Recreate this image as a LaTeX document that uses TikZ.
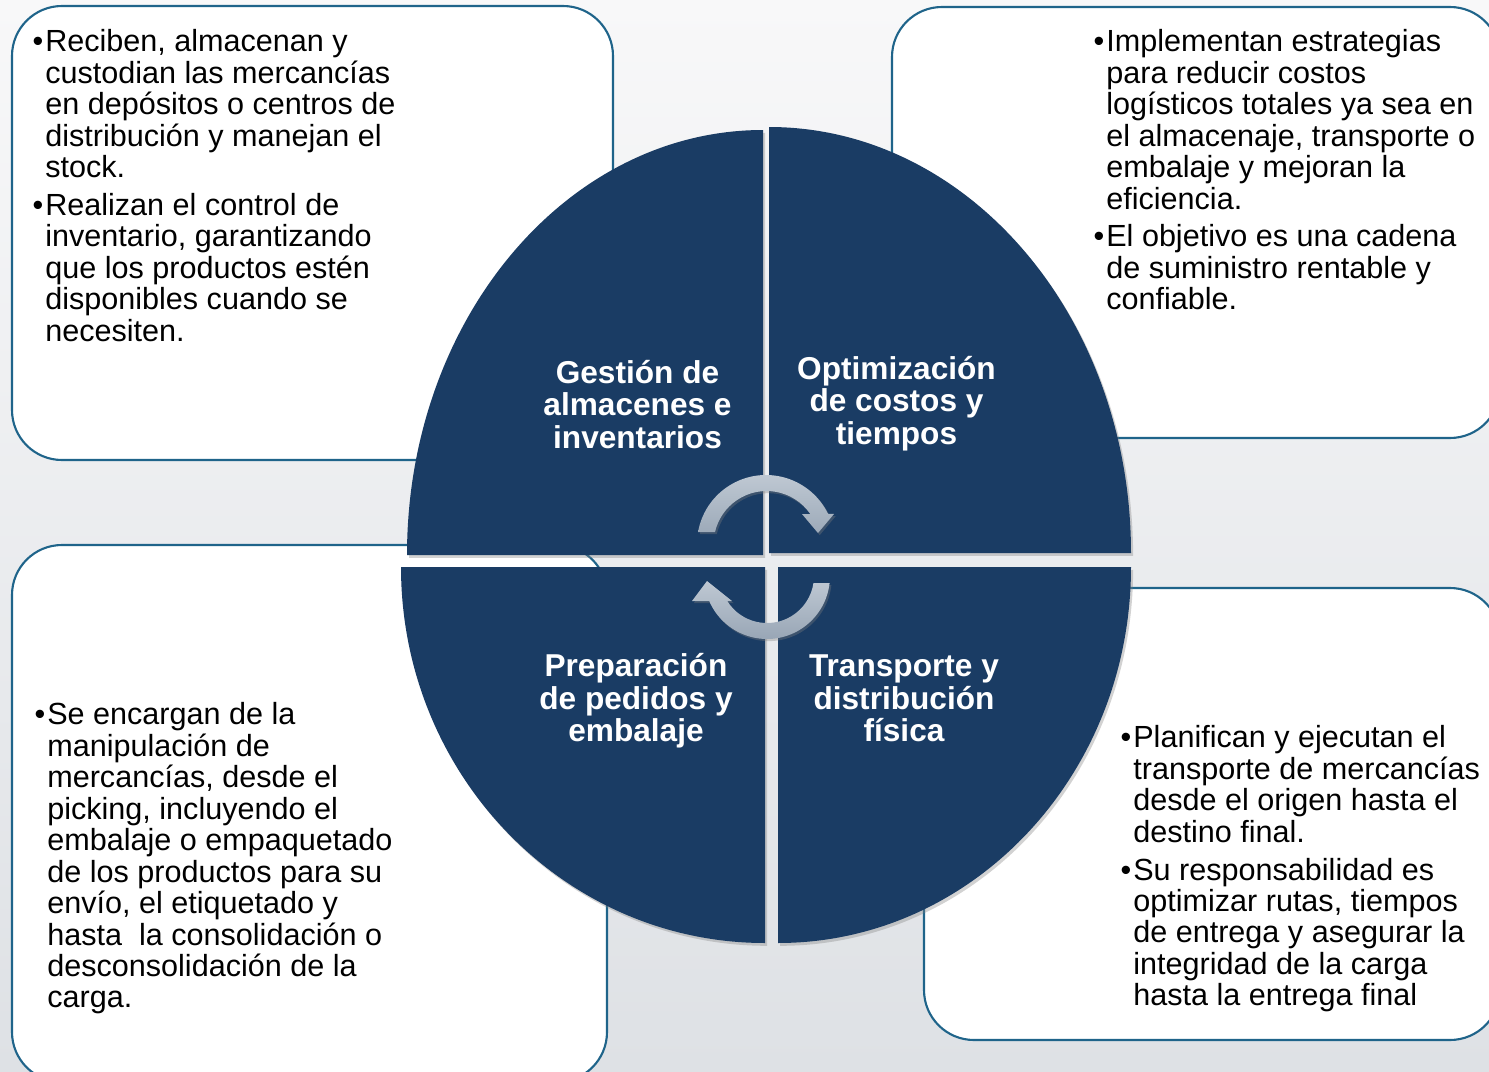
\documentclass[tikz,border=0pt]{standalone}
\usepackage{fontspec}
\setmainfont{Liberation Sans}
\usetikzlibrary{shadows}

\definecolor{navy}{RGB}{26,60,100}
\definecolor{frameblue}{RGB}{31,100,138}
\definecolor{arrowtop}{RGB}{194,203,213}
\definecolor{arrowbot}{RGB}{150,164,180}
\definecolor{bgtop}{RGB}{248,248,249}
\definecolor{bgbot}{RGB}{222,225,229}

\newcommand{\bul}{\llap{\textbullet\hspace{1.2pt}}}
\newcommand{\topstrut}{\rule{0pt}{1em}}

\tikzset{
  infobox/.style={draw=frameblue, line width=1.2pt, fill=white, rounded corners=1cm},
  quarter/.style={fill=navy, drop shadow={shadow xshift=1.2pt, shadow yshift=-1.6pt, opacity=.35}},
  cyclearrow/.style={top color=arrowtop, bottom color=arrowbot, drop shadow={shadow xshift=1pt, shadow yshift=-1.2pt, opacity=.35}},
  bodytext/.style={inner sep=0pt, anchor=north west, align=left, font=\fontsize{17.4}{17.9}\selectfont},
  titletext/.style={inner sep=0pt, anchor=north, align=center, text=white, font=\fontsize{18}{18.5}\selectfont\bfseries}
}

\begin{document}
\begin{tikzpicture}[x=0.02cm, y=-0.02cm]

	%Canvas in pixels, y pointing down
	\useasboundingbox (0,0) rectangle (1489,1072);
	\shade[top color=bgtop, bottom color=bgbot] (0,0) rectangle (1489,1072);

	%The four text boxes
	\draw[infobox] (12,6) rectangle (613,460);
	\draw[infobox] (892,7) rectangle (1500,438);
	\draw[infobox] (12,545) rectangle (607,1082);
	\draw[infobox] (924,588) rectangle (1500,1040);

	%The four quarters of the disc
	\fill[quarter] (763,555) -- (407,555) arc[start angle=180, end angle=270, x radius=356, y radius=425] -- cycle;
	\fill[quarter] (769,553) -- (769,127) arc[start angle=270, end angle=360, x radius=362, y radius=426] -- cycle;
	\fill[quarter] (765,567) -- (401,567) arc[start angle=180, end angle=90, x radius=364, y radius=376] -- cycle;
	\fill[quarter] (778,567) -- (1131,567) arc[start angle=0, end angle=90, x radius=353, y radius=376] -- cycle;

	%Circular arrows in the middle
	\coordinate (ctop) at (766,544);
	\coordinate (cbot) at (767,576);
	\path[cyclearrow] (ctop) ++(190:69) arc[start angle=190, end angle=334, radius=69]
		-- (834,514) -- (818,533) -- (802,514) -- (810.3,514)
		arc[start angle=325.5, end angle=193, radius=53] -- cycle;
	\path[cyclearrow] (cbot) ++(6.4:63) arc[start angle=6.4, end angle=156.6, radius=63]
		-- (692,601) -- (707,581) -- (732,601) -- (727.2,601)
		arc[start angle=147.9, end angle=8.6, radius=47] -- cycle;

	%Titles of the quarters
	\node[titletext] (almacenes) at (637.5,351.3) {\topstrut Gestión de\\almacenes e\\inventarios};
	\node[titletext] (costos) at (896.5,347.5) {\topstrut Optimización\\de costos y\\tiempos};
	\node[titletext] (pedidos) at (636,645) {\topstrut Preparación\\de pedidos y\\embalaje};
	\node[titletext] (transporte) at (904,645) {\topstrut Transporte y\\distribución\\física};

	%Texts of the boxes
	\node[bodytext] (textalmacenes) at (45,21) {\topstrut\bul Reciben, almacenan y\\custodian las mercancías\\en depósitos o centros de\\distribución y manejan el\\stock.\\[3.6pt]
		\bul Realizan el control de\\inventario, garantizando\\que los productos estén\\disponibles cuando se\\necesiten.};
	\node[bodytext] (textcostos) at (1106,21) {\topstrut\bul Implementan estrategias\\para reducir costos\\logísticos totales ya sea en\\el almacenaje, transporte o\\embalaje y mejoran la\\eficiencia.\\[3.6pt]
		\bul El objetivo es una cadena\\de suministro rentable y\\confiable.};
	\node[bodytext] (textpedidos) at (47,694) {\topstrut\bul Se encargan de la\\manipulación de\\mercancías, desde el\\picking, incluyendo el\\embalaje o empaquetado\\de los productos para su\\envío, el etiquetado y\\hasta\ \ la consolidación o\\desconsolidación de la\\carga.};
	\node[bodytext] (texttransporte) at (1133,717) {\topstrut\bul Planifican y ejecutan el\\transporte de mercancías\\desde el origen hasta el\\destino final.\\[3.6pt]
		\bul Su responsabilidad es\\optimizar rutas, tiempos\\de entrega y asegurar la\\integridad de la carga\\hasta la entrega final};

\end{tikzpicture}
\end{document}
